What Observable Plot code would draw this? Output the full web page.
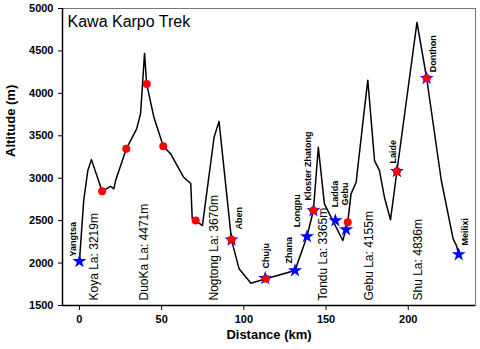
<!DOCTYPE html>
<html>
<head>
<meta charset="utf-8">
<script src="https://cdn.jsdelivr.net/npm/d3@7"></script>
<script src="https://cdn.jsdelivr.net/npm/@observablehq/plot@0.6"></script>
<style>
  html, body { margin: 0; padding: 0; background: #fff; }
  #chart svg { display: block; font-family: Arial, "Liberation Sans", sans-serif; }
</style>
</head>
<body>
<div id="chart"></div>
<script>
// Elevation profile (distance in km, altitude in m)
const profileKm  = [0, 2.6, 5.1, 7.3, 13.8, 18.9, 20.9, 22.0, 28.5, 34.8, 37.2, 39.6, 40.9, 45.3, 51.0, 55.5, 63.4, 67.7, 68.6, 70.7, 74.8, 81.9, 84.9, 92.5, 97.1, 104.3, 113.4, 131.1, 138.4, 142.3, 145.3, 149.0, 160.2, 163.2, 165.2, 168.3, 173.0, 175.4, 179.5, 182.5, 185.5, 189.2, 193.1, 205.3, 211.2, 220.1, 227.3, 229.3, 230.7];
const profileAlt = [2020, 2740, 3090, 3219, 2846, 2905, 2875, 2972, 3346, 3581, 3762, 4471, 4111, 3718, 3377, 3287, 3011, 2937, 2525, 2501, 2442, 3483, 3670, 2274, 1932, 1763, 1815, 1912, 2313, 2619, 3365, 2698, 2266, 2481, 2816, 2952, 3758, 4155, 3208, 3090, 2776, 2510, 3082, 4836, 4178, 2973, 2286, 2207, 2101];

// Red dots (campsites)
const dotKm  = [13.8, 28.5, 40.9, 51.0, 70.7, 92.5, 113.4, 142.3, 163.2, 193.1, 211.2];
const dotAlt = [2846, 3346, 4111, 3377, 2501, 2274, 1815, 2619, 2481, 3082, 4178];

// Blue stars (villages)
const villageNames = ["Yangtsa", "Aben", "Chuju", "Zhana", "Longpu", "Kloster Zhatong", "Ladda", "Gebu", "Laide", "Donthon", "Meilixi"];
const villageKm    = [0, 92.5, 113.0, 131.1, 138.4, 142.3, 155.7, 162.2, 193.1, 211.2, 230.7];
const villageAlt   = [2020, 2274, 1820, 1912, 2313, 2619, 2501, 2395, 3082, 4178, 2101];
// where each village name starts (data units)
const villageLabelKm  = [-3.7, 97.0, 113.4, 127.4, 132.7, 138.8, 155.5, 161.8, 190.7, 215.1, 234.8];
const villageLabelAlt = [2077, 2395, 1936, 1995, 2422, 2737, 2658, 2678, 3173, 4248, 2207];

// Passes
const passNames = ["Koya La: 3219m", "DuoKa La: 4471m", "Nogtong La: 3670m", "Tondu La: 3365m", "Gebu La: 4155m", "Shu La: 4836m"];
const passLabelKm = [9.1, 39.2, 81.7, 148.0, 176.0, 206.0];
const passLabelAlt = [1559, 1559, 1559, 1559, 1559, 1559];

const xTicks = [0, 50, 100, 150, 200];
const yTicks = [1500, 2000, 2500, 3000, 3500, 4000, 4500, 5000];
const xDomain = [-10.3, 240.9];
const yDomain = [1500, 5000];

const profile = profileKm.map((k, i) => ({km: k, alt: profileAlt[i]}));
const dots = dotKm.map((k, i) => ({km: k, alt: dotAlt[i]}));
const villages = villageNames.map((n, i) => ({name: n, km: villageKm[i], alt: villageAlt[i], lx: villageLabelKm[i], ly: villageLabelAlt[i]}));
const passes = passNames.map((n, i) => ({name: n, km: passLabelKm[i], alt: passLabelAlt[i]}));

const font = "Arial, 'Liberation Sans', sans-serif";

const chart = Plot.plot({
  width: 480,
  height: 349,
  marginLeft: 62,
  marginRight: 5,
  marginTop: 8,
  marginBottom: 44,
  style: {fontFamily: font, background: "#fff", overflow: "visible"},
  x: {domain: xDomain},
  y: {domain: yDomain},
  marks: [
    Plot.frame({stroke: "#777", strokeWidth: 1}),
    Plot.ruleY([yDomain[0]], {stroke: "#000", strokeWidth: 1.5}),
    Plot.ruleX([xDomain[0]], {stroke: "#000", strokeWidth: 1.5}),
    Plot.axisX({ticks: xTicks, tickSize: 5, tickPadding: 5, fontSize: 11, fontWeight: "bold", label: null, tickFormat: d => String(d)}),
    Plot.axisY({ticks: yTicks, tickSize: 4, tickPadding: 5, fontSize: 11, fontWeight: "bold", label: null, tickFormat: d => String(d)}),
    Plot.text(["Distance (km)"], {frameAnchor: "bottom", dy: 33, fontSize: 13, fontWeight: "bold"}),
    Plot.text(["Altitude (m)"], {frameAnchor: "left", dx: -52, rotate: -90, fontSize: 13, fontWeight: "bold"}),
    Plot.text(["Kawa Karpo Trek"], {frameAnchor: "top-left", dx: 5, dy: 7, textAnchor: "start", lineAnchor: "top", fontSize: 16}),
    Plot.line(profile, {x: "km", y: "alt", stroke: "#000", strokeWidth: 1.5}),
    Plot.dot(villages, {x: "km", y: "alt", symbol: "star", r: 4.4, fill: "#0000ff", stroke: "none"}),
    Plot.dot(dots, {x: "km", y: "alt", r: 4, fill: "#ff0000", stroke: "none"}),
    Plot.text(villages, {x: "lx", y: "ly", text: "name", rotate: -90, textAnchor: "start", fontSize: 9, fontWeight: "bold"}),
    Plot.text(passes, {x: "km", y: "alt", text: "name", rotate: -90, textAnchor: "start", fontSize: 12})
  ]
});
document.getElementById("chart").appendChild(chart);
</script>
</body>
</html>
